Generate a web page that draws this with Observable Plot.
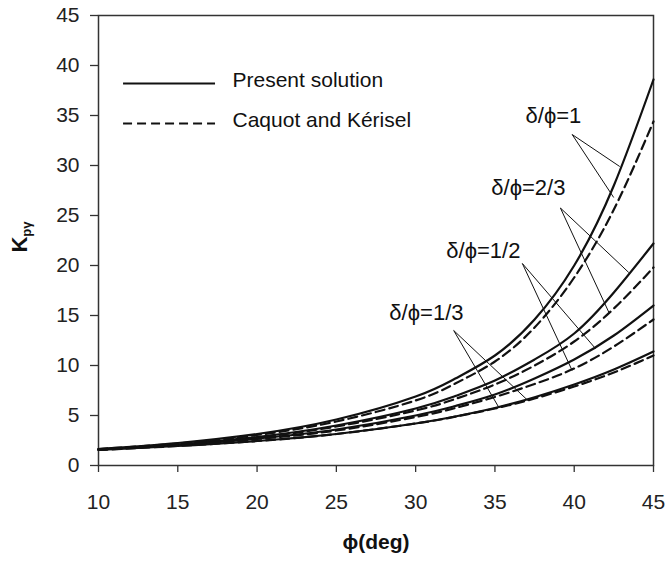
<!DOCTYPE html>
<html><head><meta charset="utf-8">
<script src="https://cdn.jsdelivr.net/npm/d3@7"></script>
<script src="https://cdn.jsdelivr.net/npm/@observablehq/plot@0.6"></script>
<style>
body{margin:0;background:#fff;}
#chart{position:relative;width:667px;height:561px;}
</style>
</head><body><div id="chart"></div>
<script>
// friction angle (deg)
const phi = [10, 15, 20, 25, 30, 32.5, 35, 37.5, 40, 42.5, 45];
// Kpγ — present solution (solid) and Caquot & Kérisel (dashed)
const ps1  = [1.65, 2.25, 3.15, 4.6, 6.9, 8.7, 11.0, 14.6, 20.0, 28.0, 38.6];
const ck1  = [1.65, 2.2, 3.05, 4.4, 6.5, 8.2, 10.4, 13.8, 18.8, 25.6, 34.4];
const ps23 = [1.6, 2.1, 2.85, 4.0, 5.7, 6.95, 8.5, 10.6, 13.2, 17.3, 22.2];
const ck23 = [1.6, 2.1, 2.8, 3.9, 5.5, 6.65, 8.1, 10.0, 12.4, 15.7, 19.8];
const ps12 = [1.6, 2.05, 2.7, 3.6, 5.0, 5.95, 7.1, 8.7, 10.6, 13.0, 16.0];
const ck12 = [1.6, 2.05, 2.65, 3.5, 4.85, 5.75, 6.85, 8.15, 9.7, 11.9, 14.6];
const ps13 = [1.55, 1.95, 2.45, 3.15, 4.2, 4.9, 5.75, 6.82, 8.1, 9.6, 11.4];
const ck13 = [1.55, 1.95, 2.45, 3.15, 4.2, 4.88, 5.7, 6.7, 7.9, 9.3, 11.0];

const xTicks = [10, 15, 20, 25, 30, 35, 40, 45];
const yTicks = [0, 5, 10, 15, 20, 25, 30, 35, 40, 45];

const methods = ["Present solution", "Caquot and Kérisel"];
const ratioLabels = ["δ/ϕ=1", "δ/ϕ=2/3", "δ/ϕ=1/2", "δ/ϕ=1/3"];
// label anchor positions (φ, K)
const labelPhi = [38.69, 37.11, 34.27, 30.68];
const labelK   = [35.0, 27.8, 21.5, 15.3];
// leader lines: origin and two ends (φ, K)
const leadFromPhi = [39.87, 39.13, 36.73, 32.4];
const leadFromK   = [33.1, 25.75, 20.2, 13.5];
const leadEndAPhi = [42.87, 43.44, 41.34, 35.24];
const leadEndAK   = [29.9, 19.3, 11.7, 5.83];
const leadEndBPhi = [42.49, 42.18, 39.87, 37.08];
const leadEndBK   = [26.8, 15.33, 9.5, 6.5];

// legend sample positions (φ, K)
const legendPhi = [11.58, 17.38];
const legendTextPhi = 18.45;
const legendK = [38.2, 34.2];

const seriesList = [
  {ratio: ratioLabels[0], method: methods[0], v: ps1},
  {ratio: ratioLabels[0], method: methods[1], v: ck1},
  {ratio: ratioLabels[1], method: methods[0], v: ps23},
  {ratio: ratioLabels[1], method: methods[1], v: ck23},
  {ratio: ratioLabels[2], method: methods[0], v: ps12},
  {ratio: ratioLabels[2], method: methods[1], v: ck12},
  {ratio: ratioLabels[3], method: methods[0], v: ps13},
  {ratio: ratioLabels[3], method: methods[1], v: ck13}
];
const rows = seriesList.flatMap(s => phi.map((p, i) => ({phi: p, K: s.v[i], key: s.ratio + "|" + s.method, method: s.method})));
const solid = rows.filter(d => d.method === methods[0]);
const dashed = rows.filter(d => d.method === methods[1]);

const leaders = ratioLabels.flatMap((r, i) => [
  {x1: leadFromPhi[i], y1: leadFromK[i], x2: leadEndAPhi[i], y2: leadEndAK[i]},
  {x1: leadFromPhi[i], y1: leadFromK[i], x2: leadEndBPhi[i], y2: leadEndBK[i]}
]);
const labels = ratioLabels.map((t, i) => ({t, x: labelPhi[i], y: labelK[i]}));
const legend = methods.map((m, i) => ({m, x1: legendPhi[0], x2: legendPhi[1], y: legendK[i], dash: i === 0 ? null : "9,5"}));

const font = "'Liberation Sans', Arial, Helvetica, sans-serif";

const plot = Plot.plot({
  width: 667,
  height: 561,
  marginLeft: 98,
  marginRight: 14,
  marginTop: 15,
  marginBottom: 96,
  style: {fontFamily: font, fontSize: "21px", color: "#222", background: "#fff"},
  x: {domain: [10, 45], ticks: xTicks, label: null, tickSize: 7, tickPadding: 22},
  y: {domain: [0, 45], ticks: yTicks, label: null, tickSize: 8, tickPadding: 11},
  marks: [
    Plot.frame({stroke: "#333", strokeWidth: 1.5}),
    Plot.line(solid, {x: "phi", y: "K", z: "key", curve: "natural", stroke: "#111", strokeWidth: 2.2}),
    Plot.line(dashed, {x: "phi", y: "K", z: "key", curve: "natural", stroke: "#111", strokeWidth: 2.2, strokeDasharray: "9,5"}),
    Plot.link(leaders, {x1: "x1", y1: "y1", x2: "x2", y2: "y2", stroke: "#111", strokeWidth: 1}),
    Plot.text(labels, {x: "x", y: "y", text: "t", fontSize: 22, fill: "#111"}),
    Plot.ruleY(legend.filter(d => !d.dash), {x1: "x1", x2: "x2", y: "y", stroke: "#111", strokeWidth: 2}),
    Plot.ruleY(legend.filter(d => d.dash), {x1: "x1", x2: "x2", y: "y", stroke: "#111", strokeWidth: 2, strokeDasharray: "9,5"}),
    Plot.text(legend, {x: () => legendTextPhi, y: "y", text: "m", textAnchor: "start", fontSize: 21, fill: "#111", dy: -3})
  ]
});

const svg = d3.select(plot);
svg.selectAll("[aria-label='x-axis tick'] path, [aria-label='y-axis tick'] path").attr("stroke", "#333").attr("stroke-width", 1.3);
// y axis title
const yt = svg.append("text")
  .attr("transform", "translate(27,237) rotate(-90)")
  .attr("text-anchor", "middle")
  .attr("font-family", font)
  .attr("font-weight", "bold")
  .attr("fill", "#111");
yt.append("tspan").attr("font-size", 22).text("K");
yt.append("tspan").attr("font-size", 13).attr("dy", 4).text("pγ");
// x axis title
svg.append("text")
  .attr("x", 376).attr("y", 549)
  .attr("text-anchor", "middle")
  .attr("font-family", font)
  .attr("font-weight", "bold")
  .attr("font-size", 21)
  .attr("fill", "#111")
  .text("ϕ(deg)");

document.getElementById("chart").appendChild(plot);
</script>
</body></html>
